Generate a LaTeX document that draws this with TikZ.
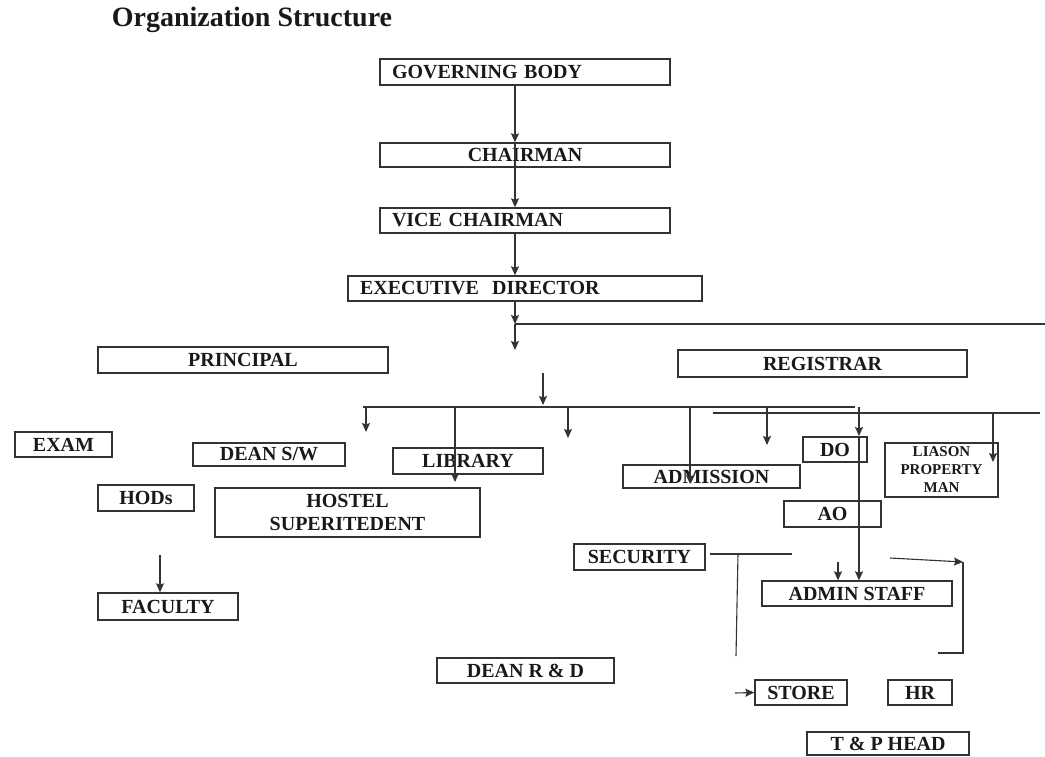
\documentclass[tikz,border=0pt]{standalone}
\usepackage{fontspec}
\setmainfont{Liberation Serif}
\usepackage{tikz}
\usetikzlibrary{arrows.meta}

\begin{document}
\begin{tikzpicture}[
                    x=1pt, y=-1pt,
                    >={Stealth[length=9pt,width=8pt,inset=1.5pt]},
                    ->,
                    line width=1.1pt
                ]
                \tikzstyle{box}=[draw=black!80, line width=1.4pt, rectangle, inner sep=0pt, text=black!90, font=\fontsize{20}{23}\selectfont\bfseries]
                \tikzstyle{lbox}=[box, align=left, inner xsep=12pt]
                \tikzstyle{conn}=[color=black!80]

                \useasboundingbox (0,0) rectangle (1045,756);

                \node[anchor=base west, font=\fontsize{28}{30}\selectfont\bfseries, text=black!90] (title) at (108,26) {Organization Structure};

                \node[lbox, text width=266pt, minimum height=26pt] (gb) at (525,72) {GOVERNING BODY};
                \node[box, minimum width=290pt, minimum height=24pt] (ch) at (525,155) {CHAIRMAN};
                \node[lbox, text width=266pt, minimum height=25pt] (vc) at (525,220.5) {VICE CHAIRMAN};
                \node[lbox, text width=330pt, minimum height=25pt] (ed) at (525,288.5) {EXECUTIVE\ \ DIRECTOR};
                \node[box, minimum width=290pt, minimum height=26pt] (pr) at (243,360) {PRINCIPAL};
                \node[box, minimum width=289pt, minimum height=27pt] (rg) at (822.5,363.5) {REGISTRAR};
                \node[box, minimum width=97pt, minimum height=25pt] (ex) at (63.5,444.5) {EXAM};
                \node[box, minimum width=152pt, minimum height=23pt] (dsw) at (269,454.5) {DEAN S/W};
                \node[box, minimum width=150pt, minimum height=26pt] (lib) at (468,461) {LIBRARY};
                \node[box, minimum width=96pt, minimum height=26pt] (hod) at (146,498) {HODs};
                \node[box, align=center, minimum width=265pt, minimum height=49pt] (hos) at (347.5,512.5) {HOSTEL\\SUPERITEDENT};
                \node[box, minimum width=140pt, minimum height=27pt] (fac) at (168,606.5) {FACULTY};
                \node[box, minimum width=177pt, minimum height=23pt] (adm) at (711.5,476.5) {ADMISSION};
                \node[box, minimum width=64pt, minimum height=25pt] (do) at (835,449.5) {DO};
                \node[box, align=center, minimum width=113pt, minimum height=54pt, font=\fontsize{15}{18}\selectfont\bfseries] (lpm) at (941.5,470) {LIASON\\PROPERTY\\MAN};
                \node[box, minimum width=97pt, minimum height=26pt] (ao) at (832.5,514) {AO};
                \node[box, minimum width=131pt, minimum height=26pt] (sec) at (639.5,557) {SECURITY};
                \node[box, minimum width=190pt, minimum height=25pt] (as) at (857,593.5) {ADMIN STAFF};
                \node[box, minimum width=177pt, minimum height=25pt] (drd) at (525.5,670.5) {DEAN R \& D};
                \node[box, minimum width=92pt, minimum height=25pt] (st) at (801,692.5) {STORE};
                \node[box, minimum width=64pt, minimum height=25pt] (hr) at (920,692.5) {HR};
                \node[box, minimum width=162pt, minimum height=23pt] (tp) at (888,743.5) {T \& P HEAD};

                % top chain
                \coordinate (t) at (515,0);
                \coordinate (e1) at (515,324);
                \coordinate (e2) at (515,350);
                \coordinate (eR) at (1045,324);
                \path[conn]
                (gb.south -| t) edge (ch.north -| t)
                (ch.north -| t) edge (vc.north -| t)
                (vc.south -| t) edge (ed.north -| t)
                (ed.south -| t) edge (e1)
                (e1) edge (e2)
                (e1) edge[-] (eR)
                ;

                % bus lines
                \coordinate (b0) at (543,373);
                \coordinate (b1) at (543,405);
                \coordinate (busL) at (363,407);
                \coordinate (busR) at (855,407);
                \coordinate (bus2L) at (713,413);
                \coordinate (bus2R) at (1040,413);
                \coordinate (k1) at (366,432);
                \coordinate (k2) at (455,482);
                \coordinate (k3) at (568,438);
                \coordinate (k4) at (690,484);
                \coordinate (k5) at (767,445);
                \coordinate (k6) at (859,436);
                \coordinate (k7) at (993,462);
                \path[conn]
                (b0) edge (b1)
                (busL) edge[-] (busR)
                (bus2L) edge[-] (bus2R)
                (busL -| k1) edge (k1)
                (busL -| k2) edge (k2)
                (busL -| k3) edge (k3)
                (busL -| k4) edge (k4)
                (busL -| k5) edge (k5)
                (busL -| k6) edge (k6)
                (k6) edge (as.north -| k6)
                (bus2L -| k7) edge (k7)
                ;

                % lower part
                \coordinate (h0) at (160,555);
                \coordinate (s0) at (710,554);
                \coordinate (s1) at (792,554);
                \coordinate (s2) at (738,554);
                \coordinate (s3) at (736,656);
                \coordinate (a0) at (838,562);
                \coordinate (r0) at (890,558);
                \coordinate (r1) at (963,562);
                \coordinate (r2) at (963,653);
                \coordinate (r3) at (938,653);
                \coordinate (q0) at (735,693);
                \path[conn]
                (h0) edge (fac.north -| h0)
                (s0) edge[-] (s1)
                (s2) edge[-] (s3)
                (a0) edge (as.north -| a0)
                (r0) edge (r1)
                (q0) edge (st.west)
                ;
                \draw[conn, -] (r1) -- (r2) -- (r3);

            \end{tikzpicture}
\end{document}
